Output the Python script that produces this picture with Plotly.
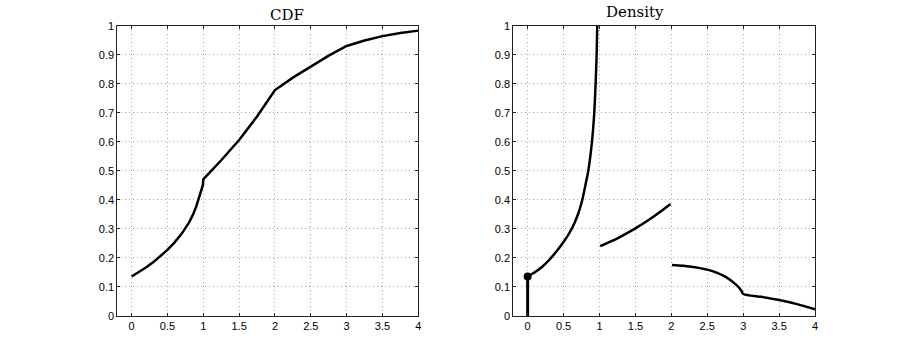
import plotly.graph_objects as go

# CDF
cdf_x = [0, 0.1, 0.2, 0.3, 0.4, 0.5, 0.6, 0.7, 0.8, 0.85, 0.9, 0.95, 0.98, 0.995, 1.0,
         1.25, 1.5, 1.75, 2.0, 2.25, 2.5, 2.75, 3.0, 3.25, 3.5, 3.75, 4.0]
cdf_y = [0.136, 0.151, 0.167, 0.185, 0.205, 0.228, 0.254, 0.284, 0.322, 0.346,
         0.376, 0.412, 0.436, 0.452, 0.471,
         0.537, 0.607, 0.688, 0.779, 0.822, 0.860, 0.898, 0.931, 0.950, 0.965,
         0.976, 0.984]

# density pieces
dens_a_x = [0, 0.1, 0.2, 0.324, 0.5, 0.612, 0.7, 0.76, 0.803, 0.844,
            0.895, 0.927, 0.946, 0.96, 0.969, 0.975]
dens_a_y = [0.136, 0.151, 0.169, 0.200, 0.255, 0.300, 0.350, 0.400, 0.450,
            0.500, 0.600, 0.700, 0.800, 0.900, 1.000, 1.06]
dens_b_x = [1.01, 1.25, 1.5, 1.75, 1.99]
dens_b_y = [0.241, 0.268, 0.302, 0.342, 0.386]
dens_c_x = [2.01, 2.25, 2.5, 2.75, 2.9, 2.97, 3.0, 3.25, 3.5, 3.75, 4.0]
dens_c_y = [0.176, 0.171, 0.160, 0.136, 0.108, 0.089, 0.076, 0.066, 0.055, 0.041, 0.023]

atom_x = 0
atom_p = 0.136

x_ticks = [0, 0.5, 1, 1.5, 2, 2.5, 3, 3.5, 4]
y_ticks = [0, 0.1, 0.2, 0.3, 0.4, 0.5, 0.6, 0.7, 0.8, 0.9, 1]

_LINE = dict(color="black", width=2.5)

fig = go.Figure()
fig.add_trace(go.Scatter(x=cdf_x, y=cdf_y, mode="lines", line=_LINE,
                         xaxis="x", yaxis="y"))
for xs, ys in [(dens_a_x, dens_a_y), (dens_b_x, dens_b_y), (dens_c_x, dens_c_y)]:
    fig.add_trace(go.Scatter(x=xs, y=ys, mode="lines",
                             line=dict(_LINE, shape="spline", smoothing=0.6),
                             xaxis="x2", yaxis="y2"))
fig.add_trace(go.Scatter(x=[atom_x, atom_x], y=[0, atom_p], mode="lines",
                         line=dict(color="black", width=3),
                         xaxis="x2", yaxis="y2"))
fig.add_trace(go.Scatter(x=[atom_x], y=[atom_p], mode="markers",
                         marker=dict(color="black", size=8),
                         xaxis="x2", yaxis="y2", cliponaxis=False))

axis_common = dict(
    showline=True, mirror="ticks", linecolor="#222", linewidth=1,
    ticks="inside", ticklen=3, tickcolor="#222",
    showgrid=True, gridcolor="#a8a8a8", griddash="1px,3px", gridwidth=1,
    zeroline=False,
    tickfont=dict(family="Liberation Sans, Arial", size=11, color="black"),
)

title_font = dict(family="DejaVu Serif", size=15, color="black")

fig.update_layout(
    width=900, height=356,
    margin=dict(l=0, r=0, t=0, b=0, autoexpand=False),
    paper_bgcolor="white", plot_bgcolor="white",
    showlegend=False,
    xaxis=dict(axis_common, domain=[0.1303, 0.4648], range=[-0.2, 4],
               tickvals=x_ticks, anchor="y", ticklabelstandoff=0),
    yaxis=dict(axis_common, domain=[0.1124, 0.927], range=[0, 1],
               tickvals=y_ticks, anchor="x"),
    xaxis2=dict(axis_common, domain=[0.5703, 0.9056], range=[-0.2, 4],
                tickvals=x_ticks, anchor="y2", ticklabelstandoff=0),
    yaxis2=dict(axis_common, domain=[0.1124, 0.927], range=[0, 1],
                tickvals=y_ticks, anchor="x2"),
    annotations=[
        dict(text="CDF", x=0.2978, y=0.9565, xref="paper", yref="paper",
             yanchor="middle", showarrow=False, font=title_font),
        dict(text="Density", x=0.7405, y=0.9654, xref="paper", yref="paper",
             yanchor="middle", showarrow=False, font=title_font),
    ],
)

fig.write_html("out.html", config={"displayModeBar": False},
               post_script="document.body.style.margin='0';")
